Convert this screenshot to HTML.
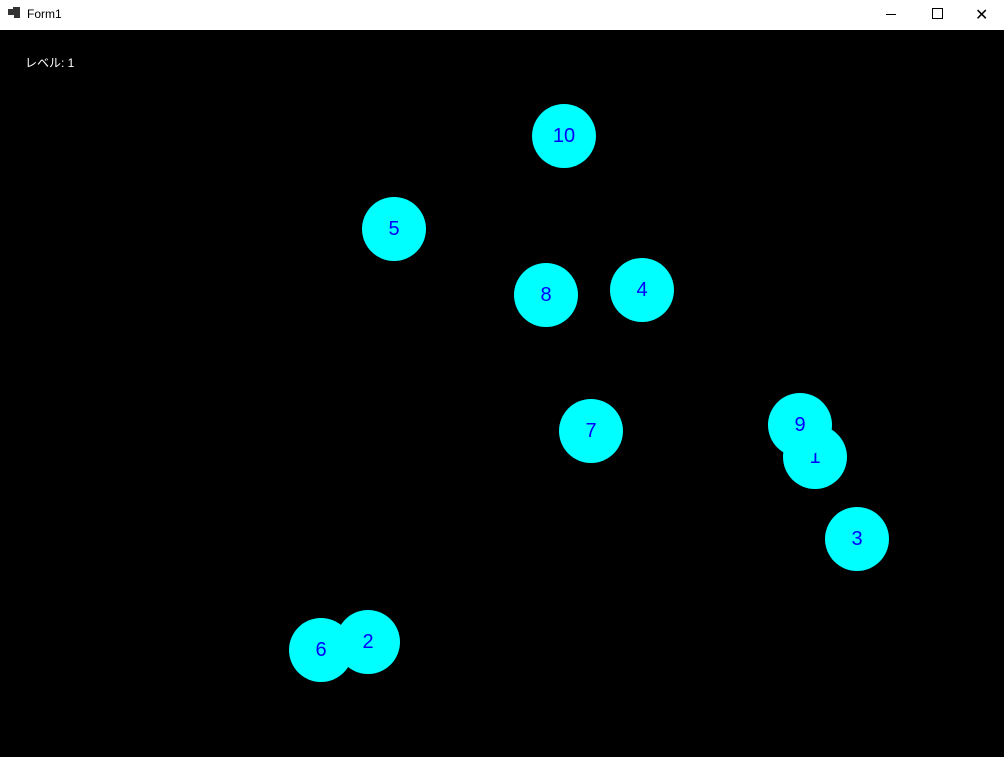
<!DOCTYPE html>
<html><head><meta charset="utf-8"><style>
body{margin:0;width:1004px;height:757px;background:#000;overflow:hidden;position:relative;font-family:"Liberation Sans","Noto Sans CJK JP",sans-serif}
.bar{position:absolute;left:0;top:0;width:1004px;height:30px;background:#fff}
.c{position:absolute;width:64px;height:64px;border-radius:50%;background:#0ff;color:#00f;font-size:20px;line-height:64px;text-align:center}
</style></head><body>
<div class="bar">
<div style="position:absolute;left:8px;top:9px;width:6px;height:6px;background:#333"></div>
<div style="position:absolute;left:13px;top:7px;width:7px;height:6px;background:#333"></div>
<div style="position:absolute;left:14px;top:13px;width:6px;height:5px;background:#333"></div>
<div style="position:absolute;left:27px;top:7px;font-size:12px;color:#000">Form1</div>
<div style="position:absolute;left:886px;top:14px;width:10px;height:1px;background:#000"></div>
<div style="position:absolute;left:932px;top:8px;width:9px;height:9px;border:1px solid #000"></div>
<div style="position:absolute;left:975px;top:5px;font-size:16px;color:#000">✕</div>
</div>
<div style="position:absolute;left:25px;top:54px;font-size:12px;color:#fff">レベル: 1</div>
<div class="c" style="left:532px;top:104px">10</div>
<div class="c" style="left:362px;top:197px">5</div>
<div class="c" style="left:514px;top:263px">8</div>
<div class="c" style="left:610px;top:258px">4</div>
<div class="c" style="left:559px;top:399px">7</div>
<div class="c" style="left:783px;top:425px">1</div>
<div class="c" style="left:768px;top:393px">9</div>
<div class="c" style="left:825px;top:507px">3</div>
<div class="c" style="left:289px;top:618px">6</div>
<div class="c" style="left:336px;top:610px">2</div>
</body></html>
